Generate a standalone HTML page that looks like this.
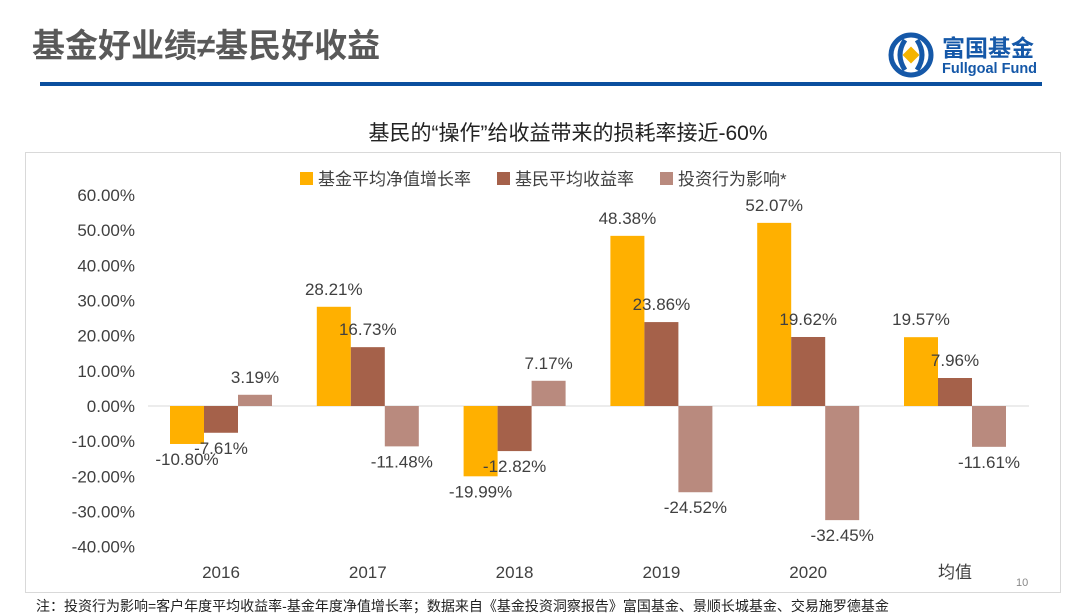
<!DOCTYPE html>
<html><head><meta charset="utf-8">
<style>
body{margin:0;width:1080px;height:616px;background:#fff;overflow:hidden;font-family:"Liberation Sans","Noto Sans CJK SC",sans-serif;}
</style></head>
<body>
<svg width="1080" height="616" xmlns="http://www.w3.org/2000/svg" style="position:absolute;left:0;top:0">
<text x="32" y="57" font-size="33" font-weight="bold" fill="#595959" font-family="Liberation Sans,Noto Sans CJK SC,sans-serif">基金好业绩≠基民好收益</text>
<rect x="40" y="82" width="1002" height="4" fill="#0a4f9e"/>
<g>
<circle cx="911" cy="55" r="20" fill="none" stroke="#1558a8" stroke-width="5"/>
<path d="M905 40 Q895 55 905 70 M917 40 Q927 55 917 70" stroke="#1558a8" stroke-width="5" fill="none"/>
<rect x="905" y="49" width="12" height="12" fill="#f5b400" transform="rotate(45 911 55)"/>
<text x="942" y="56" font-size="23" font-weight="bold" fill="#1558a8" font-family="Liberation Sans,Noto Sans CJK SC,sans-serif">富国基金</text>
<text x="942" y="73" font-size="14.5" font-weight="bold" fill="#1558a8">Fullgoal Fund</text>
</g>
<text x="568" y="140" text-anchor="middle" font-size="21" fill="#222" font-family="Liberation Sans,Noto Sans CJK SC,sans-serif">基民的“操作”给收益带来的损耗率接近-60%</text>
<rect x="25.5" y="152.5" width="1035" height="440" fill="none" stroke="#d9d9d9"/>
<g id="chart"></g>
<text x="1016" y="586" font-size="11" fill="#888">10</text>
<text x="36" y="611" font-size="14" fill="#222" font-family="Liberation Sans,Noto Sans CJK SC,sans-serif">注：投资行为影响=客户年度平均收益率-基金年度净值增长率；数据来自《基金投资洞察报告》富国基金、景顺长城基金、交易施罗德基金</text>
</svg>
<script>
const categories=["2016","2017","2018","2019","2020","均值"];
const fundGrowth=[-10.80,28.21,-19.99,48.38,52.07,19.57];
const investorReturn=[-7.61,16.73,-12.82,23.86,19.62,7.96];
const behaviorImpact=[3.19,-11.48,7.17,-24.52,-32.45,-11.61];
const seriesNames=["基金平均净值增长率","基民平均收益率","投资行为影响*"];
const yTicks=[60,50,40,30,20,10,0,-10,-20,-30,-40];
const colors=["#ffb000","#a5614a","#b98a7e"];
const NS="http://www.w3.org/2000/svg";
const g=document.getElementById('chart');
const y=v=>406-v*3.517;
const xc=i=>221+i*146.8;
const bw=34;
function mk(t,a){const e=document.createElementNS(NS,t);for(const k in a)e.setAttribute(k,a[k]);g.appendChild(e);return e;}
yTicks.forEach(t=>{const e=mk('text',{x:135,y:y(t)+6,'text-anchor':'end','font-size':17,fill:'#404040'});


e.textContent=t.toFixed(2)+'%';});
const zl=mk('line',{x1:148,x2:1029,y1:406,y2:406,stroke:'#d9d9d9','stroke-width':1});


categories.forEach((c,i)=>{const e=mk('text',{x:xc(i),y:578,'text-anchor':'middle','font-size':17,fill:'#404040'});


e.textContent=c;});
[fundGrowth,investorReturn,behaviorImpact].forEach((s,si)=>{
s.forEach((v,i)=>{
const x=xc(i)-1.5*bw+si*bw;
const r=mk('rect',{x:x,y:Math.min(y(v),y(0)),width:bw,height:Math.abs(y(v)-y(0)),fill:colors[si]});


const ly=v>=0?y(v)-12:y(v)+21;
const t=mk('text',{x:x+bw/2,y:ly,'text-anchor':'middle','font-size':17,fill:'#404040'});


t.textContent=v.toFixed(2)+'%';
});});
const lx=[300,497,660];
seriesNames.forEach((n,i)=>{
const r=mk('rect',{x:lx[i],y:172,width:13,height:13,fill:colors[i]});


const t=mk('text',{x:lx[i]+18,y:185,'font-size':17,fill:'#404040'});


t.textContent=n;});
</script>
</body></html>
